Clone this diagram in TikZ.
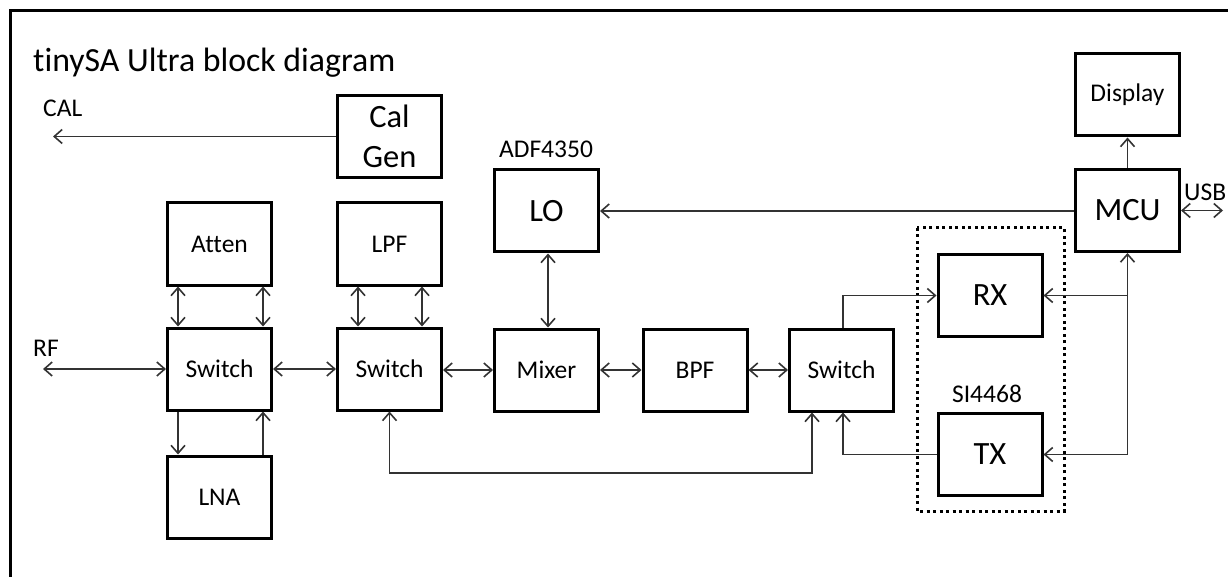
\documentclass[tikz,border=0pt]{standalone}
\usepackage{fontspec}
\setmainfont{Carlito}[Ligatures=CommonOff]
\usetikzlibrary{arrows.meta}
\begin{document}
\begin{tikzpicture}[x=1pt,y=-1pt,
  blk/.style={draw=black,line width=3pt,minimum width=104pt,minimum height=82pt,inner sep=0pt,font=\fontsize{25.5}{30}\selectfont},
  bigtxt/.style={font=\fontsize{32.5}{40}\selectfont},
  lbl/.style={inner sep=0pt,font=\fontsize{25.5}{30}\selectfont},
  conn/.style={draw=black!80,line width=1.6pt},
  >={Straight Barb[length=8pt,width=14pt]}
  ]
\useasboundingbox (0,0) rectangle (1228,577);
% frame
\draw[line width=3pt] (10,580) -- (10,11) -- (1231,11);
% title and labels
\node[anchor=base west,inner sep=0pt,font=\fontsize{33.8}{40}\selectfont] (title) at (33,72) {tinySA Ultra block diagram};
\node[lbl,anchor=west] (callbl) at (43,108) {CAL};
\node[lbl,anchor=west] (rflbl) at (33,348) {RF};
\node[lbl] (adflbl) at (546,149) {ADF4350};
\node[lbl] (silbl) at (987,394) {SI4468};
\node[lbl,anchor=west] (usblbl) at (1184,192) {USB};
% boxes
\node[blk] (Atten) at (219.5,244) {Atten};
\node[blk] (Sw1) at (219.5,369) {Switch};
\node[blk] (LNA) at (219.5,497) {LNA};
\node[blk,bigtxt,align=center] (Cal) at (389.5,136.5) {Cal\\Gen};
\node[blk] (LPF) at (389.5,244) {LPF};
\node[blk] (Sw2) at (389.5,369) {Switch};
\node[blk,bigtxt] (LO) at (546.5,211) {LO};
\node[blk] (Mix) at (546.5,370) {Mixer};
\node[blk] (BPF) at (695,370) {BPF};
\node[blk] (Sw3) at (841.5,370) {Switch};
\node[blk,bigtxt] (RX) at (990,295.5) {RX};
\node[blk,bigtxt] (TX) at (990,454.5) {TX};
\node[blk,bigtxt] (MCU) at (1127.5,210.5) {MCU};
\node[blk] (Disp) at (1127.5,95) {Display};
% dotted group
\draw[line width=3pt,dash pattern=on 3pt off 3.5pt] (917,228) rectangle (1064,511);
% free ends
\coordinate (calend) at (53,138);
\coordinate (rfend) at (43,371);
\coordinate (usbend) at (1223,213);
\coordinate (busB) at (0,473);
% connectors
\draw[conn,->] (Cal.west) -- (calend |- Cal.west);
\draw[conn,<->] (rfend |- Sw1.west) -- (Sw1.west);
\draw[conn,<->] ([xshift=-41.5pt]Atten.south) -- ([xshift=-41.5pt]Sw1.north);
\draw[conn,<->] ([xshift=43.5pt]Atten.south) -- ([xshift=43.5pt]Sw1.north);
\draw[conn,->] ([xshift=-41.5pt]Sw1.south) -- ([xshift=-41.5pt]LNA.north);
\draw[conn,->] ([xshift=43.5pt]LNA.north) -- ([xshift=43.5pt]Sw1.south);
\draw[conn,<->] (Sw1.east) -- (Sw2.west);
\draw[conn,<->] ([xshift=-31.5pt]LPF.south) -- ([xshift=-31.5pt]Sw2.north);
\draw[conn,<->] ([xshift=32.5pt]LPF.south) -- ([xshift=32.5pt]Sw2.north);
\draw[conn,<->] (Sw2.east |- Mix.west) -- (Mix.west);
\draw[conn,<->] (Mix.east) -- (BPF.west);
\draw[conn,<->] (BPF.east) -- (Sw3.west);
\draw[conn,<->] ([xshift=1.5pt]LO.south) -- ([xshift=1.5pt]Mix.north);
\draw[conn,->] (LO.east -| MCU.west) -- (LO.east);
\draw[conn,<->] (Sw2.south) -- (Sw2.south |- busB) -| ([xshift=-29.5pt]Sw3.south);
\draw[conn,->] ([xshift=1.5pt]Sw3.north) |- (RX.west);
\draw[conn,->] (TX.west) -| ([xshift=1.5pt]Sw3.south);
\draw[conn,->] (MCU.south |- TX.east) -- (MCU.south);
\draw[conn,->] (MCU.south |- RX.east) -- (RX.east);
\draw[conn,->] (MCU.south |- TX.east) -- (TX.east);
\draw[conn,->] (MCU.north) -- (Disp.south);
\draw[conn,<->] (MCU.east) -- (usbend |- MCU.east);
\end{tikzpicture}
\end{document}
